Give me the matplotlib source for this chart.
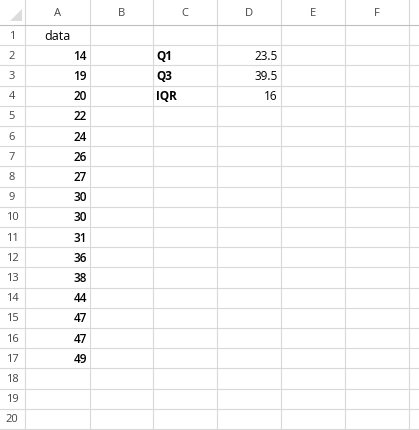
import matplotlib
matplotlib.use("Agg")
import matplotlib.pyplot as plt

data = [14, 19, 20, 22, 24, 26, 27, 30, 30, 31, 36, 38, 44, 47, 47, 49]
stat_names = ["Q1", "Q3", "IQR"]
stat_values = ["23.5", "39.5", "16"]
col_letters = ["A", "B", "C", "D", "E", "F"]

W, H = 419, 431
HEAD_H, ROW_H = 26, 20.2
col_edges = [0, 25, 90, 153, 217, 281, 345, 409, 419]
GRID = "#d9d9d9"
FONT = "Open Sans"

fig = plt.figure(figsize=(W / 100, H / 100), dpi=100)
ax = fig.add_axes([0, 0, 1, 1])
ax.set_xlim(0, W)
ax.set_ylim(H, 0)
ax.axis("off")

for x in col_edges[1:-1]:
    ax.plot([x, x], [0, H], color=GRID, lw=0.8)
ax.plot([0, W], [HEAD_H, HEAD_H], color="#bfbfbf", lw=0.8)
for k in range(1, 21):
    y = HEAD_H + k * ROW_H
    ax.plot([0, W], [y, y], color=GRID, lw=0.8)

# corner triangle
ax.fill([10, 22, 22], [22, 22, 10], color="#dcdcdc", lw=0)

for i, c in enumerate(col_letters):
    ax.text((col_edges[i + 1] + col_edges[i + 2]) / 2, HEAD_H / 2 + 1, c,
            ha="center", va="center", fontsize=8, color="#444444", family=FONT)

def row_y(r):
    return HEAD_H + (r - 0.5) * ROW_H

for r in range(1, 21):
    ax.text(12, row_y(r), str(r), ha="center", va="center", fontsize=8,
            color="#444444", family=FONT)

ax.text(57, row_y(1), "data", ha="center", va="center", fontsize=9, family=FONT)
for i, v in enumerate(data):
    ax.text(87, row_y(i + 2), str(v), ha="right", va="center", fontsize=8.5,
            family=FONT, fontweight="semibold")
for i, (n, v) in enumerate(zip(stat_names, stat_values)):
    ax.text(156, row_y(i + 2), n, ha="left", va="center", fontsize=8.5,
            family=FONT, fontweight="bold")
    ax.text(278, row_y(i + 2), v, ha="right", va="center", fontsize=8.5,
            family=FONT)

fig.savefig("out.png", dpi=100, facecolor="white")
plt.close(fig)
